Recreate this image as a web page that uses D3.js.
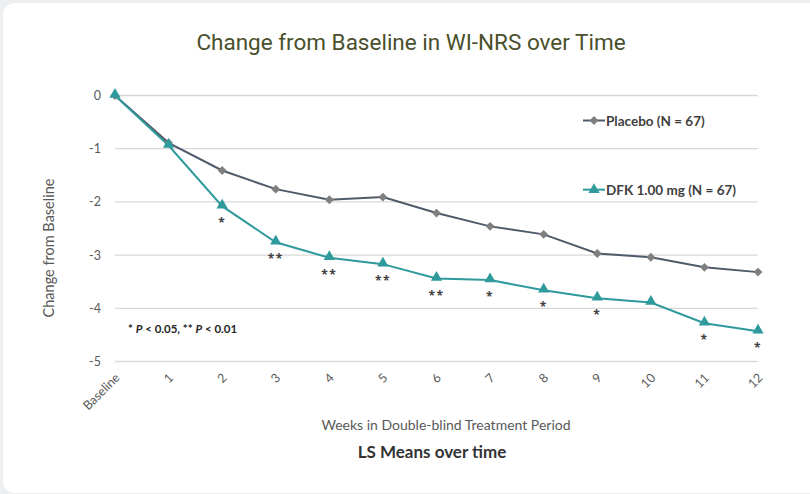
<!DOCTYPE html>
<html>
<head>
<meta charset="utf-8">
<script src="https://cdn.jsdelivr.net/npm/d3@7"></script>
<style>
  html, body { margin: 0; padding: 0; background: #eeeff1; }
  svg { display: block; }
</style>
</head>
<body>
<div id="chart"></div>
<script>
// weeks on x axis
var weeks = ["Baseline", "1", "2", "3", "4", "5", "6", "7", "8", "9", "10", "11", "12"];
var placebo = [0, -0.89, -1.41, -1.76, -1.96, -1.91, -2.21, -2.46, -2.61, -2.97, -3.04, -3.23, -3.32];
var dfk = [0, -0.94, -2.08, -2.76, -3.05, -3.17, -3.44, -3.47, -3.66, -3.81, -3.89, -4.28, -4.43];
// significance marks under the DFK points
var signif = ["", "", "*", "**", "**", "**", "**", "*", "*", "*", "", "*", "*"];
var yTicks = [0, -1, -2, -3, -4, -5];
var seriesNames = ["Placebo (N = 67)", "DFK 1.00 mg (N = 67)"];

var width = 810, height = 494;
var svg = d3.select("#chart").append("svg")
    .attr("width", width)
    .attr("height", height);

// card
svg.append("rect")
   .attr("x", 3).attr("y", 3)
   .attr("width", 830).attr("height", 490)
   .attr("rx", 12)
   .style("fill", "#ffffff");

var x = d3.scalePoint()
   .domain(weeks)
   .range([115, 758]);
var y = d3.scaleLinear()
   .domain([-5, 0])
   .range([361.5, 95.5]);

var font = "Lato, 'Open Sans', sans-serif";

// title
svg.append("text")
   .attr("x", 411).attr("y", 50)
   .attr("text-anchor", "middle")
   .style("font-family", "Roboto, sans-serif")
   .style("font-size", "22.5px")
   .style("fill", "#4a4f2c")
   .text("Change from Baseline in WI-NRS over Time");

// gridlines
svg.selectAll(".grid")
   .data(yTicks)
   .enter()
   .append("line")
   .attr("x1", 115).attr("x2", 758)
   .attr("y1", function(d){ return y(d); })
   .attr("y2", function(d){ return y(d); })
   .style("stroke", "#d9d9d9")
   .style("stroke-width", 1.3);

// y axis labels
var yAxis = d3.axisLeft(y).tickValues(yTicks).tickSize(0).tickPadding(14)
   .tickFormat(function(d){ return String(d); });
var yg = svg.append("g").attr("transform", "translate(115,0)").call(yAxis);
yg.select(".domain").remove();
yg.selectAll("text")
  .style("font-family", font)
  .style("font-size", "12.5px")
  .style("fill", "#595959");

// x axis labels, rotated
var xAxis = d3.axisBottom(x).tickSize(0).tickPadding(0);
var xg = svg.append("g").attr("transform", "translate(0,361.5)").call(xAxis);
xg.select(".domain").remove();
xg.selectAll("text")
  .attr("text-anchor", "end")
  .attr("dy", 0)
  .attr("transform", "translate(5,17) rotate(-45)")
  .style("font-family", font)
  .style("font-size", "12.5px")
  .style("fill", "#595959");

// axis titles
svg.append("text")
   .attr("transform", "translate(54,248) rotate(-90)")
   .attr("text-anchor", "middle")
   .style("font-family", font)
   .style("font-size", "14.5px")
   .style("fill", "#595959")
   .text("Change from Baseline");

svg.append("text")
   .attr("x", 446).attr("y", 430)
   .attr("text-anchor", "middle")
   .style("font-family", font)
   .style("font-size", "14px")
   .style("fill", "#595959")
   .text("Weeks in Double-blind Treatment Period");

svg.append("text")
   .attr("x", 432).attr("y", 458)
   .attr("text-anchor", "middle")
   .style("font-family", font)
   .style("font-size", "17px")
   .style("font-weight", "bold")
   .style("fill", "#333333")
   .text("LS Means over time");

// lines
var line = d3.line()
   .x(function(d, i){ return x(weeks[i]); })
   .y(function(d){ return y(d); });

svg.append("path")
   .datum(placebo)
   .attr("d", line)
   .style("fill", "none")
   .style("stroke", "#4f5b6b")
   .style("stroke-width", 2);

svg.append("path")
   .datum(dfk)
   .attr("d", line)
   .style("fill", "none")
   .style("stroke", "#2e9a9c")
   .style("stroke-width", 2);

// markers
var diamond = d3.symbol().type(d3.symbolDiamond2).size(50);
var tri = d3.symbol().type(d3.symbolTriangle).size(55);

svg.selectAll(".pm")
   .data(placebo)
   .enter()
   .append("path")
   .attr("d", diamond)
   .attr("transform", function(d, i){ return "translate(" + x(weeks[i]) + "," + y(d) + ")"; })
   .style("fill", "#7f7f7f");

svg.selectAll(".dm")
   .data(dfk)
   .enter()
   .append("path")
   .attr("d", tri)
   .attr("transform", function(d, i){ return "translate(" + x(weeks[i]) + "," + (y(d) - 1) + ")"; })
   .style("fill", "#2e9a9c");

// asterisks
svg.selectAll(".sig")
   .data(dfk)
   .enter()
   .append("text")
   .attr("x", function(d, i){ return x(weeks[i]); })
   .attr("y", function(d){ return y(d) + 21; })
   .attr("text-anchor", "middle")
   .style("font-family", "'Open Sans', sans-serif")
   .style("font-size", "12px")
   .style("font-weight", "bold")
   .style("letter-spacing", "1.5px")
   .style("fill", "#404040")
   .text(function(d, i){ return signif[i]; });

// footnote
var foot = svg.append("text")
   .attr("x", 128).attr("y", 333)
   .style("font-family", font)
   .style("font-size", "11.5px")
   .style("font-weight", "bold")
   .style("fill", "#262626");
foot.append("tspan").text("* ");
foot.append("tspan").style("font-style", "italic").text("P");
foot.append("tspan").text(" < 0.05, ** ");
foot.append("tspan").style("font-style", "italic").text("P");
foot.append("tspan").text(" < 0.01");

// legend
var legY = [y(-0.47), y(-1.77)];
var leg = svg.selectAll(".leg")
   .data(seriesNames)
   .enter()
   .append("g")
   .attr("transform", function(d, i){ return "translate(583," + legY[i] + ")"; });

leg.append("line")
   .attr("x1", 0).attr("x2", 22)
   .style("stroke", function(d, i){ return i == 0 ? "#4f5b6b" : "#2e9a9c"; })
   .style("stroke-width", 2);
leg.append("path")
   .attr("d", function(d, i){ return i == 0 ? diamond() : tri(); })
   .attr("transform", "translate(11,0)")
   .style("fill", function(d, i){ return i == 0 ? "#7f7f7f" : "#2e9a9c"; });
leg.append("text")
   .attr("x", 23).attr("y", 5)
   .style("font-family", font)
   .style("font-size", "13.5px")
   .style("font-weight", "bold")
   .style("fill", "#404040")
   .text(function(d){ return d; });
</script>
</body>
</html>
